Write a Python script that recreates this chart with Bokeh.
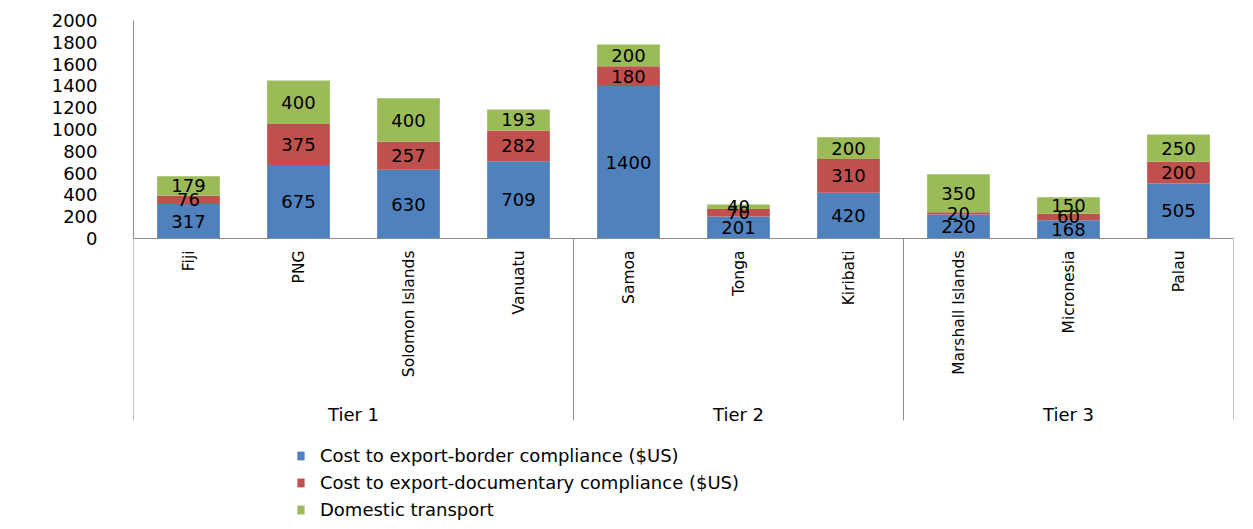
import math
from bokeh.plotting import figure
from bokeh.models import (ColumnDataSource, Range1d, FixedTicker, Legend, LegendItem, Span)
from bokeh.core.properties import value
from bokeh.embed import file_html
from bokeh.resources import INLINE

# ---- data ----
countries = ["Fiji", "PNG", "Solomon Islands", "Vanuatu", "Samoa", "Tonga",
             "Kiribati", "Marshall Islands", "Micronesia", "Palau"]
tiers = ["Tier 1", "Tier 1", "Tier 1", "Tier 1", "Tier 2", "Tier 2", "Tier 2",
         "Tier 3", "Tier 3", "Tier 3"]
border = [317, 675, 630, 709, 1400, 201, 420, 220, 168, 505]
documentary = [76, 375, 257, 282, 180, 70, 310, 20, 60, 200]
domestic = [179, 400, 400, 193, 200, 40, 200, 350, 150, 250]
series_names = ["Cost to export-border compliance ($US)",
                "Cost to export-documentary compliance ($US)",
                "Domestic transport"]
y_ticks = [0, 200, 400, 600, 800, 1000, 1200, 1400, 1600, 1800, 2000]

# ---- style / layout ----
colors = ["#4F81BD", "#C0504D", "#9BBB59"]
FONT = "DejaVu Sans"
GRAY = "#8c8c8c"
Y_MAX = 2000
PLOT_H = 218          # pixel height of the 0..2000 value area
FRAME_H = 509         # frame continues below for category labels + legend
SEP_H = 182           # pixel length of the group separators below zero

y_min = -Y_MAX * (FRAME_H - PLOT_H) / PLOT_H
sep_end = -Y_MAX * SEP_H / PLOT_H

# category slots: each country occupies one unit on the x scale
xpos = [i + 0.5 for i in range(len(countries))]

keys = ["border", "documentary", "domestic"]
src = ColumnDataSource(dict(x=xpos, country=countries, border=border,
                            documentary=documentary, domestic=domestic))

p = figure(x_range=Range1d(0, len(countries)), y_range=Range1d(y_min, Y_MAX),
           frame_width=1100, frame_height=FRAME_H,
           min_border_left=133, min_border_right=20, min_border_top=20,
           min_border_bottom=0, x_axis_location=None,
           output_backend="svg", toolbar_location=None,
           outline_line_color=None, background_fill_color="white",
           border_fill_color="white",
           styles={"outline": "1px solid #a6a6a6", "outline-offset": "-4px"})

bars = p.vbar_stack(keys, x="x", width=0.57, color=colors, line_color=None,
                    source=src)

# segment labels
lab_x, lab_y, lab_t = [], [], []
series_vals = [border, documentary, domestic]
for i, c in enumerate(countries):
    base = 0
    for s in series_vals:
        v = s[i]
        lab_x.append(xpos[i])
        lab_y.append(base + v / 2)
        lab_t.append(str(v))
        base += v
p.text(x=lab_x, y=lab_y, text=lab_t, text_align="center", text_baseline="middle",
       text_font=value(FONT), text_font_size="18px", text_color="black")

p.xgrid.visible = False
p.ygrid.visible = False

# y axis (only over the value area)
ya = p.yaxis[0]
ya.ticker = FixedTicker(ticks=y_ticks)
ya.bounds = (0, Y_MAX)
ya.axis_line_color = GRAY
ya.major_tick_line_color = None
ya.minor_tick_line_color = None
ya.major_label_standoff = 30
ya.major_label_text_font = FONT
ya.major_label_text_font_size = "18px"
ya.major_label_text_color = "black"

# category baseline
p.add_layout(Span(location=0, dimension="width", line_color=GRAY, line_width=1))

# tier groups
tier_names, bounds = [], [0]
for i, t in enumerate(tiers):
    if not tier_names or tier_names[-1] != t:
        if tier_names:
            bounds.append(i)
        tier_names.append(t)
bounds.append(len(tiers))
centers = [(bounds[k] + bounds[k + 1]) / 2 for k in range(len(tier_names))]

# group separators
p.segment(x0=bounds, y0=[0] * len(bounds), x1=bounds, y1=[sep_end] * len(bounds),
          line_color=GRAY, line_width=1)

# country labels (rotated, reading upward)
p.text(x=xpos, y=[0] * len(xpos), text=countries, angle=math.pi / 2,
       text_align="right", text_baseline="middle", y_offset=12,
       text_font=value(FONT), text_font_size="15.5px", text_color="black")

# tier labels
p.text(x=centers, y=[sep_end] * len(centers), text=tier_names,
       text_align="center", text_baseline="middle", y_offset=-6,
       text_font=value(FONT), text_font_size="18px", text_color="black")

legend = Legend(items=[LegendItem(label=n, renderers=[r]) for n, r in zip(series_names, bars)],
                location=(163, 9), orientation="vertical",
                glyph_width=9, glyph_height=11, label_standoff=15,
                label_height=21, spacing=6, padding=0, margin=0,
                border_line_color=None, background_fill_alpha=0,
                label_text_font=FONT, label_text_font_size="18px",
                label_text_color="black")
p.add_layout(legend)

open("out.html", "w").write(file_html(p, INLINE))
